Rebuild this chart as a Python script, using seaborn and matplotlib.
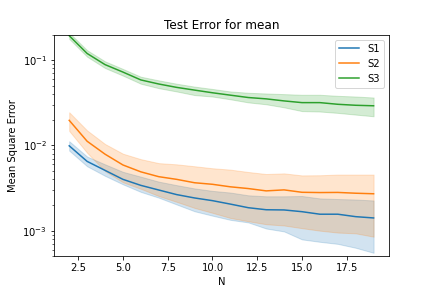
import numpy as np
import pandas as pd
import matplotlib
matplotlib.use("Agg")
import matplotlib.pyplot as plt
import seaborn as sns

N = list(range(2, 20))
series = ["S1", "S2", "S3"]

s1_mid = [0.0099, 0.0065, 0.0051, 0.0040, 0.0034, 0.0030, 0.00265, 0.00242, 0.00225,
          0.00205, 0.00186, 0.00176, 0.00175, 0.00167, 0.00156, 0.00156, 0.00146, 0.00141]
s1_hi = [0.0112, 0.0074, 0.0060, 0.0049, 0.0043, 0.00376, 0.00342, 0.00313, 0.00293,
         0.0028, 0.0026, 0.00253, 0.00253, 0.00255, 0.00239, 0.00235, 0.00232, 0.00226]
s1_lo = [0.0087, 0.0057, 0.0044, 0.0035, 0.00285, 0.00244, 0.00203, 0.00169, 0.0015,
         0.00134, 0.00125, 0.00106, 0.00098, 0.00079, 0.00074, 0.0007, 0.00063, 0.00055]

s2_mid = [0.0197, 0.0112, 0.0079, 0.0059, 0.0049, 0.0043, 0.0040, 0.00365, 0.0035,
          0.00327, 0.00312, 0.00293, 0.00301, 0.00282, 0.0028, 0.00281, 0.00275, 0.00271]
s2_hi = [0.0245, 0.0150, 0.0104, 0.0080, 0.0069, 0.0062, 0.0060, 0.0057, 0.0054,
         0.0052, 0.00488, 0.00462, 0.0047, 0.00445, 0.00447, 0.00455, 0.00455, 0.00455]
s2_lo = [0.0148, 0.0082, 0.0050, 0.0037, 0.0031, 0.00255, 0.00218, 0.00185, 0.00162,
         0.00141, 0.00129, 0.00119, 0.00115, 0.00107, 0.0010, 0.00095, 0.00093, 0.00085]

s3_mid = [0.194, 0.120, 0.0888, 0.0726, 0.0587, 0.0526, 0.048, 0.0446, 0.0415,
          0.0389, 0.0365, 0.0352, 0.0333, 0.0318, 0.0318, 0.0304, 0.0296, 0.0292]
s3_hi = [0.21, 0.131, 0.097, 0.079, 0.064, 0.058, 0.053, 0.049, 0.046,
         0.043, 0.0415, 0.0407, 0.040, 0.0393, 0.0393, 0.0382, 0.0375, 0.0365]
s3_lo = [0.178, 0.110, 0.081, 0.066, 0.053, 0.047, 0.043, 0.039, 0.0375,
         0.0348, 0.032, 0.0304, 0.028, 0.0253, 0.025, 0.0241, 0.023, 0.022]

data = {"S1": (s1_lo, s1_mid, s1_hi), "S2": (s2_lo, s2_mid, s2_hi), "S3": (s3_lo, s3_mid, s3_hi)}
rows = []
for name in series:
    lo, mid, hi = data[name]
    for i, n in enumerate(N):
        for v in (lo[i], mid[i], hi[i]):
            rows.append({"N": n, "Mean Square Error": v, "method": name})
df = pd.DataFrame(rows)

fig, ax = plt.subplots(figsize=(6, 4), dpi=72)
sns.lineplot(data=df, x="N", y="Mean Square Error", hue="method",
             estimator="median", errorbar=("pi", 100), ax=ax,
             palette=["#1f77b4", "#ff7f0e", "#2ca02c"])
ax.set_yscale("log")
ax.set_ylim(5e-4, 0.2)
ax.set_title("Test Error for mean")
ax.set_xlabel("N")
ax.set_ylabel("Mean Square Error")
ax.legend(loc="upper right")
fig.savefig("out.png", dpi=72)
